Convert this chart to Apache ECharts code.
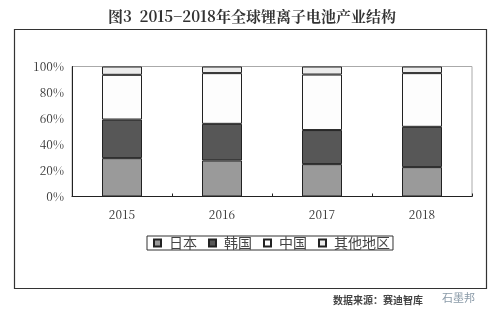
<!DOCTYPE html>
<html><head><meta charset="utf-8">
<script src="https://cdn.jsdelivr.net/npm/echarts@6/dist/echarts.min.js"></script>
<style>html,body{margin:0;padding:0;background:#fff}#c{width:504px;height:323px}</style>
</head><body><div id="c"></div>
<script>
const categories = ['2015', '2016', '2017', '2018'];
const japan = [29.5, 27.7, 24.9, 22.6];
const korea = [29.7, 28.2, 26.2, 31.0];
const china = [34.4, 39.0, 42.7, 41.3];
const others = [6.4, 5.1, 6.2, 5.1];
const seriesNames = ['日本', '韩国', '中国', '其他地区'];
const yTicks = [0, 20, 40, 60, 80, 100];

const serif = '"Noto Serif CJK SC", "Liberation Serif", "DejaVu Serif", serif';
const colors = ['#9a9a9a', '#575757', '#fdfdfd', '#ececec'];
const dataSets = [japan, korea, china, others];

const chart = echarts.init(document.getElementById('c'));
chart.setOption({
  animation: false,
  title: {
    text: '图3  2015−2018年全球锂离子电池产业结构',
    left: 'center', top: 4,
    textStyle: { fontFamily: serif, fontSize: 15, fontWeight: 'bold', color: '#333' }
  },
  graphic: [
    { type: 'rect', shape: { x: 14.5, y: 29.5, width: 472, height: 259 }, style: { fill: 'none', stroke: '#333', lineWidth: 1.2 } },
    { type: 'text', left: 333, top: 295, style: { text: '数据来源：赛迪智库', font: 'bold 10px "Noto Sans CJK SC"', fill: '#444' } },
    { type: 'text', left: 442, top: 292, style: { text: '石墨邦', font: '11px "Noto Sans CJK SC"', fill: '#8a9aa8' } }
  ],
  legend: {
    data: seriesNames,
    left: 147, top: 236,
    icon: 'rect',
    itemWidth: 7, itemHeight: 7, itemGap: 11,
    padding: [0, 3, 0, 6],
    borderColor: '#333', borderWidth: 1,
    textStyle: { fontFamily: '"Noto Sans CJK SC"', fontSize: 14, color: '#444', padding: [0, 0, 0, 3], lineHeight: 14 }
  },
  grid: { left: 72, right: 32, top: 66.5, bottom: 126.5, show: true, borderColor: '#aaa', borderWidth: 1 },
  xAxis: {
    type: 'category', data: categories,
    axisLine: { lineStyle: { color: '#222', width: 1 } },
    axisTick: { show: true, inside: true, length: 3, lineStyle: { color: '#222' } },
    axisLabel: { fontFamily: serif, fontSize: 12, color: '#333', margin: 12 }
  },
  yAxis: {
    type: 'value', min: 0, max: 100, interval: 20,
    splitLine: { show: false },
    axisLine: { show: true, lineStyle: { color: '#222', width: 1 } },
    axisTick: { show: false },
    axisLabel: { fontFamily: serif, fontSize: 12, color: '#333', margin: 8, formatter: v => yTicks.includes(v) ? v + '%' : '' }
  },
  series: dataSets.map((d, i) => ({
    name: seriesNames[i], type: 'bar', stack: 'all', barWidth: 40,
    data: d,
    itemStyle: { color: colors[i], borderColor: '#222', borderWidth: 1 }
  }))
});
</script></body></html>
